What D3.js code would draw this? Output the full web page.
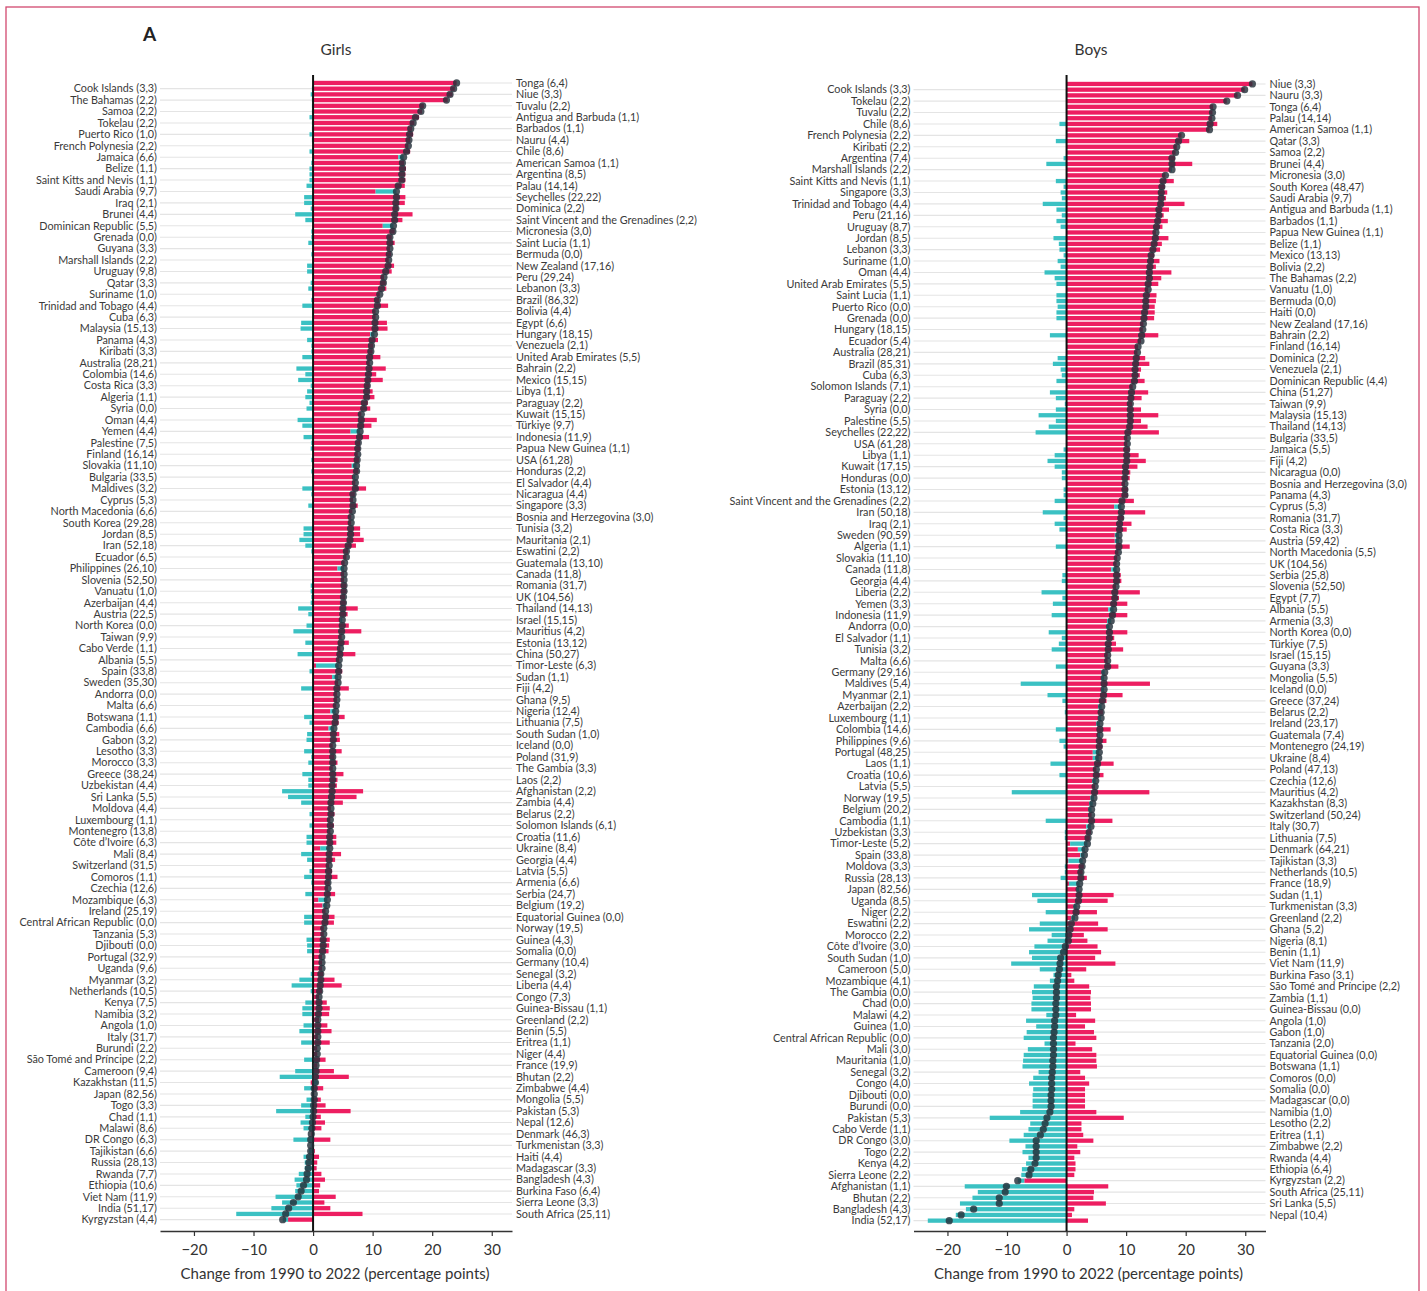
<!DOCTYPE html>
<html><head><meta charset="utf-8">
<script src="https://cdn.jsdelivr.net/npm/d3@7"></script>
<style>
body{margin:0;background:#fff}
svg{display:block}
text{font-family:Lato,"Open Sans",sans-serif;}
</style>
</head><body>
<svg id="chart" width="1427" height="1291"></svg>
<script>
// ---------------- DATA ----------------
const tickValues = [-20, -10, 0, 10, 20, 30];
const axisTitle = "Change from 1990 to 2022 (percentage points)";

// Girls: labels on the left (odd rows) and right (even rows), top to bottom
const girlsLeft = ["Cook Islands (3,3)","The Bahamas (2,2)","Samoa (2,2)","Tokelau (2,2)","Puerto Rico (1,0)","French Polynesia (2,2)","Jamaica (6,6)","Belize (1,1)","Saint Kitts and Nevis (1,1)","Saudi Arabia (9,7)","Iraq (2,1)","Brunei (4,4)","Dominican Republic (5,5)","Grenada (0,0)","Guyana (3,3)","Marshall Islands (2,2)","Uruguay (9,8)","Qatar (3,3)","Suriname (1,0)","Trinidad and Tobago (4,4)","Cuba (6,3)","Malaysia (15,13)","Panama (4,3)","Kiribati (3,3)","Australia (28,21)","Colombia (14,6)","Costa Rica (3,3)","Algeria (1,1)","Syria (0,0)","Oman (4,4)","Yemen (4,4)","Palestine (7,5)","Finland (16,14)","Slovakia (11,10)","Bulgaria (33,5)","Maldives (3,2)","Cyprus (5,3)","North Macedonia (6,6)","South Korea (29,28)","Jordan (8,5)","Iran (52,18)","Ecuador (6,5)","Philippines (26,10)","Slovenia (52,50)","Vanuatu (1,0)","Azerbaijan (4,4)","Austria (22,5)","North Korea (0,0)","Taiwan (9,9)","Cabo Verde (1,1)","Albania (5,5)","Spain (33,8)","Sweden (35,30)","Andorra (0,0)","Malta (6,6)","Botswana (1,1)","Cambodia (6,6)","Gabon (3,2)","Lesotho (3,3)","Morocco (3,3)","Greece (38,24)","Uzbekistan (4,4)","Sri Lanka (5,5)","Moldova (4,4)","Luxembourg (1,1)","Montenegro (13,8)","Côte d’Ivoire (6,3)","Mali (8,4)","Switzerland (31,5)","Comoros (1,1)","Czechia (12,6)","Mozambique (6,3)","Ireland (25,19)","Central African Republic (0,0)","Tanzania (5,3)","Djibouti (0,0)","Portugal (32,9)","Uganda (9,6)","Myanmar (3,2)","Netherlands (10,5)","Kenya (7,5)","Namibia (3,2)","Angola (1,0)","Italy (31,7)","Burundi (2,2)","São Tomé and Príncipe (2,2)","Cameroon (9,4)","Kazakhstan (11,5)","Japan (82,56)","Togo (3,3)","Chad (1,1)","Malawi (8,6)","DR Congo (6,3)","Tajikistan (6,6)","Russia (28,13)","Rwanda (7,7)","Ethiopia (10,6)","Viet Nam (11,9)","India (51,17)","Kyrgyzstan (4,4)"];
const girlsRight = ["Tonga (6,4)","Niue (3,3)","Tuvalu (2,2)","Antigua and Barbuda (1,1)","Barbados (1,1)","Nauru (4,4)","Chile (8,6)","American Samoa (1,1)","Argentina (8,5)","Palau (14,14)","Seychelles (22,22)","Dominica (2,2)","Saint Vincent and the Grenadines (2,2)","Micronesia (3,0)","Saint Lucia (1,1)","Bermuda (0,0)","New Zealand (17,16)","Peru (29,24)","Lebanon (3,3)","Brazil (86,32)","Bolivia (4,4)","Egypt (6,6)","Hungary (18,15)","Venezuela (2,1)","United Arab Emirates (5,5)","Bahrain (2,2)","Mexico (15,15)","Libya (1,1)","Paraguay (2,2)","Kuwait (15,15)","Türkiye (9,7)","Indonesia (11,9)","Papua New Guinea (1,1)","USA (61,28)","Honduras (2,2)","El Salvador (4,4)","Nicaragua (4,4)","Singapore (3,3)","Bosnia and Herzegovina (3,0)","Tunisia (3,2)","Mauritania (2,1)","Eswatini (2,2)","Guatemala (13,10)","Canada (11,8)","Romania (31,7)","UK (104,56)","Thailand (14,13)","Israel (15,15)","Mauritius (4,2)","Estonia (13,12)","China (50,27)","Timor-Leste (6,3)","Sudan (1,1)","Fiji (4,2)","Ghana (9,5)","Nigeria (12,4)","Lithuania (7,5)","South Sudan (1,0)","Iceland (0,0)","Poland (31,9)","The Gambia (3,3)","Laos (2,2)","Afghanistan (2,2)","Zambia (4,4)","Belarus (2,2)","Solomon Islands (6,1)","Croatia (11,6)","Ukraine (8,4)","Georgia (4,4)","Latvia (5,5)","Armenia (6,6)","Serbia (24,7)","Belgium (19,2)","Equatorial Guinea (0,0)","Norway (19,5)","Guinea (4,3)","Somalia (0,0)","Germany (10,4)","Senegal (3,2)","Liberia (4,4)","Congo (7,3)","Guinea-Bissau (1,1)","Greenland (2,2)","Benin (5,5)","Eritrea (1,1)","Niger (4,4)","France (19,9)","Bhutan (2,2)","Zimbabwe (4,4)","Mongolia (5,5)","Pakistan (5,3)","Nepal (12,6)","Denmark (46,3)","Turkmenistan (3,3)","Haiti (4,4)","Madagascar (3,3)","Bangladesh (4,3)","Burkina Faso (6,4)","Sierra Leone (3,3)","South Africa (25,11)"];
// change in obesity (crimson) and thinness (teal), percentage points, row order top to bottom
const girlsObesity = [24.1,23.8,23.4,22.6,18.6,18.3,17.8,17.0,16.6,16.8,16.3,16.0,16.3,14.3,15.3,15.6,15.5,15.5,15.4,10.5,15.5,15.4,14.3,16.7,15.0,11.7,13.7,13.2,13.7,12.9,13.1,12.7,13.6,13.2,11.9,12.2,12.3,11.2,11.1,12.6,10.5,10.5,12.4,12.5,9.6,10.9,10.1,10.0,11.3,9.5,12.2,10.6,11.7,9.5,10.0,10.3,9.2,9.6,8.1,10.7,9.8,6.3,9.4,7.9,7.9,7.5,7.7,6.5,7.6,6.8,7.1,8.9,7.0,6.7,7.5,6.6,6.4,6.4,7.9,7.9,8.5,7.2,5.9,5.6,5.3,4.1,5.2,5.2,5.6,5.6,5.4,5.5,7.5,5.8,4.6,6.0,8.1,4.8,6.0,4.6,7.1,4.4,0.5,4.9,3.2,4.2,6.0,4.0,4.0,3.9,2.9,5.3,4.3,2.6,4.4,4.5,3.3,4.8,3.6,4.1,3.3,5.1,4.1,4.0,8.4,7.3,5.0,3.0,3.6,2.9,3.5,2.9,3.9,3.9,1.2,4.7,3.7,2.7,3.2,4.1,2.8,2.5,3.7,0.9,1.6,2.1,3.6,3.5,1.8,1.8,2.8,2.7,2.6,1.5,1.5,1.5,1.7,3.6,4.8,1.5,1.0,2.3,2.8,2.7,1.0,2.4,3.1,0.8,2.8,0.7,0.7,2.1,0.7,3.5,6.0,-0.4,1.7,0.2,1.3,2.1,6.3,1.3,2.0,1.4,-0.3,2.9,-0.2,0.3,1.0,0.7,0.6,1.4,2.0,1.2,1.0,3.8,1.9,2.9,8.3,-4.2];
const girlsThinness = [0,-0.2,-0.4,-0.2,-0.2,-0.2,-0.6,-0.2,-0.2,-0.6,-0.2,0,-0.6,0.9,-0.3,-0.6,-0.6,-0.6,-1.1,3.5,-1.5,-1.5,-0.4,-3.0,-1.3,1.8,-0.3,-0.3,-0.8,0,-0.3,0,-1.0,-1.0,0,-0.4,-0.8,0,-0.3,-1.8,0,0,-2.0,-2.1,0.7,-1.0,-0.3,-0.3,-1.8,0,-2.8,-1.3,-2.5,-0.4,-1.0,-1.3,-0.6,-1.1,0,-2.6,-1.8,1.6,-1.6,-0.3,-0.4,0,-0.3,0.8,-0.3,0.3,0,-1.8,-0.3,0,-0.8,0,0,0,-1.6,-1.6,-2.3,-1.3,-0.3,0,0,1.1,0,0,-0.4,-0.4,-0.3,-0.4,-2.5,-0.8,0.3,-1.1,-3.3,0,-1.3,0,-2.6,0,3.8,-0.6,1.0,0,-2.0,0,0,0,0.9,-1.5,-0.6,0.9,-1.0,-1.1,0,-1.5,-0.3,-0.8,0,-1.8,-0.8,-0.8,-5.2,-4.2,-2.0,0,-0.6,0,-0.6,0,-1.1,-1.1,1.6,-2.0,-1.0,0,-0.6,-1.5,-0.3,0,-1.3,1.5,0.7,0,-1.5,-1.5,0,0,-1.1,-1.0,-1.0,0,0,0,-0.4,-2.3,-3.6,-0.4,0,-1.3,-1.8,-1.8,-0.2,-1.6,-2.3,0,-2.0,0,0,-1.5,-0.2,-3.0,-5.6,0.8,-1.5,0,-1.1,-2.0,-6.2,-1.3,-2.1,-1.6,0,-3.3,-0.2,-0.7,-1.6,-1.4,-1.4,-2.4,-3.1,-2.8,-3.0,-6.3,-5.2,-7.0,-12.9,-0.9];

// Boys
const boysLeft = ["Cook Islands (3,3)","Tokelau (2,2)","Tuvalu (2,2)","Chile (8,6)","French Polynesia (2,2)","Kiribati (2,2)","Argentina (7,4)","Marshall Islands (2,2)","Saint Kitts and Nevis (1,1)","Singapore (3,3)","Trinidad and Tobago (4,4)","Peru (21,16)","Uruguay (8,7)","Jordan (8,5)","Lebanon (3,3)","Suriname (1,0)","Oman (4,4)","United Arab Emirates (5,5)","Saint Lucia (1,1)","Puerto Rico (0,0)","Grenada (0,0)","Hungary (18,15)","Ecuador (5,4)","Australia (28,21)","Brazil (85,31)","Cuba (6,3)","Solomon Islands (7,1)","Paraguay (2,2)","Syria (0,0)","Palestine (5,5)","Seychelles (22,22)","USA (61,28)","Libya (1,1)","Kuwait (17,15)","Honduras (0,0)","Estonia (13,12)","Saint Vincent and the Grenadines (2,2)","Iran (50,18)","Iraq (2,1)","Sweden (90,59)","Algeria (1,1)","Slovakia (11,10)","Canada (11,8)","Georgia (4,4)","Liberia (2,2)","Yemen (3,3)","Indonesia (11,9)","Andorra (0,0)","El Salvador (1,1)","Tunisia (3,2)","Malta (6,6)","Germany (29,16)","Maldives (5,4)","Myanmar (2,1)","Azerbaijan (2,2)","Luxembourg (1,1)","Colombia (14,6)","Philippines (9,6)","Portugal (48,25)","Laos (1,1)","Croatia (10,6)","Latvia (5,5)","Norway (19,5)","Belgium (20,2)","Cambodia (1,1)","Uzbekistan (3,3)","Timor-Leste (5,2)","Spain (33,8)","Moldova (3,3)","Russia (28,13)","Japan (82,56)","Uganda (8,5)","Niger (2,2)","Eswatini (2,2)","Morocco (2,2)","Côte d’Ivoire (3,0)","South Sudan (1,0)","Cameroon (5,0)","Mozambique (4,1)","The Gambia (0,0)","Chad (0,0)","Malawi (4,2)","Guinea (1,0)","Central African Republic (0,0)","Mali (3,0)","Mauritania (1,0)","Senegal (3,2)","Congo (4,0)","Djibouti (0,0)","Burundi (0,0)","Pakistan (5,3)","Cabo Verde (1,1)","DR Congo (3,0)","Togo (2,2)","Kenya (4,2)","Sierra Leone (2,2)","Afghanistan (1,1)","Bhutan (2,2)","Bangladesh (4,3)","India (52,17)"];
const boysRight = ["Niue (3,3)","Nauru (3,3)","Tonga (6,4)","Palau (14,14)","American Samoa (1,1)","Qatar (3,3)","Samoa (2,2)","Brunei (4,4)","Micronesia (3,0)","South Korea (48,47)","Saudi Arabia (9,7)","Antigua and Barbuda (1,1)","Barbados (1,1)","Papua New Guinea (1,1)","Belize (1,1)","Mexico (13,13)","Bolivia (2,2)","The Bahamas (2,2)","Vanuatu (1,0)","Bermuda (0,0)","Haiti (0,0)","New Zealand (17,16)","Bahrain (2,2)","Finland (16,14)","Dominica (2,2)","Venezuela (2,1)","Dominican Republic (4,4)","China (51,27)","Taiwan (9,9)","Malaysia (15,13)","Thailand (14,13)","Bulgaria (33,5)","Jamaica (5,5)","Fiji (4,2)","Nicaragua (0,0)","Bosnia and Herzegovina (3,0)","Panama (4,3)","Cyprus (5,3)","Romania (31,7)","Costa Rica (3,3)","Austria (59,42)","North Macedonia (5,5)","UK (104,56)","Serbia (25,8)","Slovenia (52,50)","Egypt (7,7)","Albania (5,5)","Armenia (3,3)","North Korea (0,0)","Türkiye (7,5)","Israel (15,15)","Guyana (3,3)","Mongolia (5,5)","Iceland (0,0)","Greece (37,24)","Belarus (2,2)","Ireland (23,17)","Guatemala (7,4)","Montenegro (24,19)","Ukraine (8,4)","Poland (47,13)","Czechia (12,6)","Mauritius (4,2)","Kazakhstan (8,3)","Switzerland (50,24)","Italy (30,7)","Lithuania (7,5)","Denmark (64,21)","Tajikistan (3,3)","Netherlands (10,5)","France (18,9)","Sudan (1,1)","Turkmenistan (3,3)","Greenland (2,2)","Ghana (5,2)","Nigeria (8,1)","Benin (1,1)","Viet Nam (11,9)","Burkina Faso (3,1)","São Tomé and Príncipe (2,2)","Zambia (1,1)","Guinea-Bissau (0,0)","Angola (1,0)","Gabon (1,0)","Tanzania (2,0)","Equatorial Guinea (0,0)","Botswana (1,1)","Comoros (0,0)","Somalia (0,0)","Madagascar (0,0)","Namibia (1,0)","Lesotho (2,2)","Eritrea (1,1)","Zimbabwe (2,2)","Rwanda (4,4)","Ethiopia (6,4)","Kyrgyzstan (2,2)","South Africa (25,11)","Sri Lanka (5,5)","Nepal (10,4)"];
const boysObesity = [31.2,29.9,28.7,26.9,24.6,24.5,24.4,25.3,24.0,19.3,20.6,18.5,18.3,18.2,21.1,17.5,16.6,18.0,16.5,16.9,16.7,19.8,17.2,16.3,17.0,16.1,15.0,17.1,16.0,15.7,14.7,15.6,15.0,17.6,15.9,15.4,13.7,15.1,15.0,14.8,14.8,14.7,12.9,12.8,15.4,12.5,12.0,11.9,13.2,13.9,12.5,12.3,13.1,11.1,13.7,12.6,11.0,12.5,15.4,12.5,13.6,15.5,10.2,10.2,10.6,12.1,13.3,11.9,10.7,10.6,9.8,10.3,10.3,11.3,8.0,13.2,9.6,10.9,10.1,8.1,8.1,10.6,8.7,8.5,8.4,7.5,9.1,9.2,8.3,12.3,8.8,10.2,7.0,10.2,6.8,6.7,10.2,8.0,8.3,9.5,6.9,6.9,8.7,5.9,5.8,14.0,5.8,9.4,6.7,5.3,6.1,5.3,5.0,7.4,5.3,6.7,6.0,4.4,4.4,7.9,5.0,6.2,4.3,4.8,13.9,4.0,3.8,3.7,4.2,7.7,3.3,4.1,3.9,0.6,1.9,2.3,0.3,2.9,2.7,3.4,0.4,1.7,7.9,6.9,1.2,5.1,0.8,5.3,6.9,2.9,3.5,5.2,5.8,4.8,8.2,3.3,0.8,1.3,3.8,4.1,4.0,4.1,4.1,1.6,4.8,3.1,4.6,5.0,1.5,4.3,5.0,5.0,5.1,2.3,3.1,3.8,3.1,3.1,3.1,3.1,5.0,9.6,2.5,2.5,2.8,4.5,1.8,2.3,1.3,1.5,1.5,1.3,-7.1,7.0,4.6,4.5,6.6,1.3,0.9,3.6];
const boysThinness = [0,0,0,0,0,0,0,-1.2,0,0,-1.8,0,0,-0.5,-3.4,0.2,0,-1.8,-0.5,-1.0,-0.8,-4.0,-1.7,-0.8,-1.7,-1.0,0,-2.2,-1.3,-1.2,-0.5,-1.5,-1.0,-3.7,-2.0,-1.7,0,-1.7,-1.7,-1.5,-1.7,-1.7,0,0,-2.8,0,0,0,-1.5,-2.3,-1.0,-0.8,-1.7,0,-2.8,-1.8,-0.3,-1.8,-4.7,-1.8,-3.0,-5.2,0,0,-0.5,-2.0,-3.2,-2.0,-0.8,-0.8,0,-0.5,-0.5,-2.0,1.2,-4.0,-0.5,-2.0,-1.2,0.7,0.7,-1.8,0,0,0,0.9,-0.7,-0.8,0,-4.2,-0.7,-2.3,0.9,-2.5,0.7,0.5,-3.0,-0.8,-1.3,-2.5,0,0,-1.8,0.5,0.5,-7.7,0.5,-3.2,-0.7,0.6,-0.3,0.5,0.6,-1.8,0.3,-1.2,-0.5,1.1,1.0,-2.7,0,-1.2,0.6,0,-9.2,0.6,0.6,0.5,0,-3.5,0.8,-0.3,-0.3,2.9,1.2,0.7,2.4,-0.3,-0.3,-1.0,1.8,0.4,-5.8,-4.9,0.5,-3.5,0.6,-4.5,-6.3,-2.5,-3.2,-5.4,-6.3,-5.8,-9.3,-4.5,-2.2,-2.8,-5.5,-5.8,-5.7,-5.9,-5.9,-3.4,-6.8,-5.1,-6.7,-7.2,-3.7,-6.5,-7.2,-7.3,-7.4,-4.7,-5.6,-6.3,-5.6,-5.7,-5.7,-5.7,-7.8,-12.9,-6.1,-6.4,-7.2,-9.6,-6.9,-7.4,-6.4,-6.8,-7.5,-7.6,-1.1,-17.1,-14.9,-15.8,-17.9,-16.9,-18.6,-23.3];

// ---------------- DRAW ----------------
const CRIMSON = "#ed1e61", TEAL = "#3bc1c3", DOT = "#25313a", INK = "#333";
const svg = d3.select("#chart");

// frame
svg.append("rect").attr("x", 6).attr("y", 7).attr("width", 1413).attr("height", 1310)
  .attr("fill", "none").attr("stroke", "#d2496f").attr("stroke-width", 1.3);
svg.append("text").attr("x", 143).attr("y", 41).attr("font-size", 19).attr("font-weight", 700)
  .attr("fill", "#222").text("A");

function drawPanel(cfg) {
  const n = cfg.obesity.length;
  const labels = d3.range(n).map(i => i % 2 === 0 ? cfg.right[i / 2] : cfg.left[(i - 1) / 2]);
  const rows = d3.range(n).map(i => {
    const o = cfg.obesity[i], t = cfg.thinness[i];
    const tStart = (o !== 0 && Math.sign(o) === Math.sign(t)) ? o : 0;
    return { i, label: labels[i], o, t, tStart, tEnd: tStart + t, total: o + t, side: i % 2 === 0 ? "R" : "L" };
  });

  const x = d3.scaleLinear().domain([-25.7, 33.4]).range(cfg.xRange);
  const y = d3.scaleBand().domain(d3.range(n)).range([cfg.yTop, cfg.yTop + n * 5.712])
    .paddingInner(0.25).paddingOuter(0.125);
  const g = svg.append("g");
  const cy = i => y(i) + y.bandwidth() / 2;

  // title
  g.append("text").attr("x", cfg.titleX).attr("y", 55).attr("text-anchor", "middle")
    .attr("font-size", 15.5).attr("fill", INK).text(cfg.title);

  // gridlines
  g.selectAll("line.grid").data(rows).join("line").attr("class", "grid")
    .attr("x1", d => d.side === "L" ? cfg.xRange[0] : x(0))
    .attr("x2", d => d.side === "L" ? x(0) : cfg.xRange[1])
    .attr("y1", d => cy(d.i)).attr("y2", d => cy(d.i))
    .attr("stroke", "#e4e4e4").attr("stroke-width", 1.1);

  // obesity bars
  g.selectAll("rect.ob").data(rows).join("rect").attr("class", "ob")
    .attr("x", d => x(Math.min(0, d.o))).attr("width", d => Math.abs(x(d.o) - x(0)))
    .attr("y", d => y(d.i)).attr("height", y.bandwidth()).attr("fill", CRIMSON);
  // thinness bars
  g.selectAll("rect.th").data(rows).join("rect").attr("class", "th")
    .attr("x", d => x(Math.min(d.tStart, d.tEnd))).attr("width", d => Math.abs(x(d.tEnd) - x(d.tStart)))
    .attr("y", d => y(d.i)).attr("height", y.bandwidth()).attr("fill", TEAL);

  // x axis
  const axis = d3.axisBottom(x).tickValues(tickValues).tickSize(5).tickSizeOuter(0).tickPadding(8)
    .tickFormat(d => d < 0 ? "\u2212" + Math.abs(d) : String(d));
  const ag = g.append("g").attr("transform", `translate(0,${cfg.axisY})`).call(axis);
  ag.select(".domain").attr("stroke", INK).attr("stroke-width", 1.3);
  ag.selectAll(".tick line").attr("stroke", INK).attr("stroke-width", 1.2);
  ag.selectAll(".tick text").attr("font-size", 15).attr("fill", INK)
    .attr("font-family", "Lato, 'Open Sans', sans-serif");
  g.append("text").attr("x", (cfg.xRange[0] + cfg.xRange[1]) / 2 - 1).attr("y", cfg.axisY + 48)
    .attr("text-anchor", "middle").attr("font-size", 15).attr("fill", INK).text(axisTitle);

  // zero line
  g.append("line").attr("x1", x(0)).attr("x2", x(0)).attr("y1", 75).attr("y2", cfg.axisY)
    .attr("stroke", "#111").attr("stroke-width", 2);

  // dots
  g.selectAll("circle.tot").data(rows).join("circle").attr("class", "tot")
    .attr("cx", d => x(d.total)).attr("cy", d => cy(d.i)).attr("r", 3.6)
    .attr("fill", DOT).attr("fill-opacity", 0.82);

  // labels
  g.selectAll("text.lab").data(rows).join("text").attr("class", "lab")
    .attr("x", d => d.side === "L" ? cfg.xRange[0] - 3 : cfg.xRange[1] + 4)
    .attr("y", d => cy(d.i)).attr("dy", "0.35em")
    .attr("text-anchor", d => d.side === "L" ? "end" : "start")
    .attr("font-size", 10.8).attr("fill", "#3a3a3a").text(d => d.label);
}

drawPanel({ title: "Girls", titleX: 336, left: girlsLeft, right: girlsRight,
  obesity: girlsObesity, thinness: girlsThinness, xRange: [160, 512], yTop: 80.1, axisY: 1231 });
drawPanel({ title: "Boys", titleX: 1091, left: boysLeft, right: boysRight,
  obesity: boysObesity, thinness: boysThinness, xRange: [913.5, 1265.5], yTop: 81.1, axisY: 1231 });
</script>
</body></html>
